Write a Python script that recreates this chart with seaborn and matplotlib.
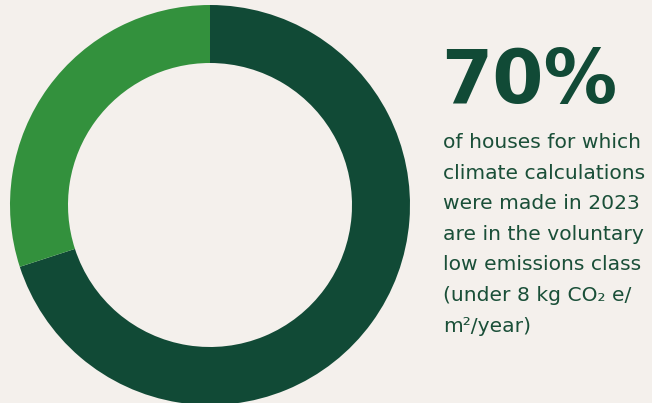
"""
Donut chart: share of houses in the voluntary low emissions class
"""

import matplotlib.pyplot as plt
import seaborn as sns

labels = ["Low emissions class", "Other"]
shares = [70, 30]
colors = ["#114a36", "#33913d"]

headline = "70%"
body_lines = [
    "of houses for which",
    "climate calculations",
    "were made in 2023",
    "are in the voluntary",
    "low emissions class",
    "(under 8 kg CO\u2082 e/",
    "m\u00b2/year)",
]


def main():
    sns.set_theme(style="white")
    plt.rcParams["font.family"] = ["DejaVu Sans"]
    bg = "#f4f0ec"

    fig = plt.figure(figsize=(6.52, 4.03), dpi=100, facecolor=bg)
    ax = fig.add_axes([10 / 652, -2 / 403, 400 / 652, 400 / 403])
    ax.set_facecolor(bg)
    ax.pie(shares, colors=colors, startangle=90, counterclock=False,
           radius=1, wedgeprops=dict(width=0.29, linewidth=0))
    ax.set_xlim(-1, 1)
    ax.set_ylim(-1, 1)
    ax.set_aspect("equal")
    ax.axis("off")

    fig.text(441 / 652, 1 - 103 / 403, headline, fontsize=53, fontweight="heavy",
             color="#114a36", ha="left", va="baseline")

    y0 = 148
    for i, line in enumerate(body_lines):
        fig.text(443 / 652, 1 - (y0 + i * 30.6) / 403, line, fontsize=14.6,
                 color="#1a4f38", ha="left", va="baseline")

    fig.savefig("out.png", dpi=100, facecolor=bg)


if __name__ == "__main__":
    main()
